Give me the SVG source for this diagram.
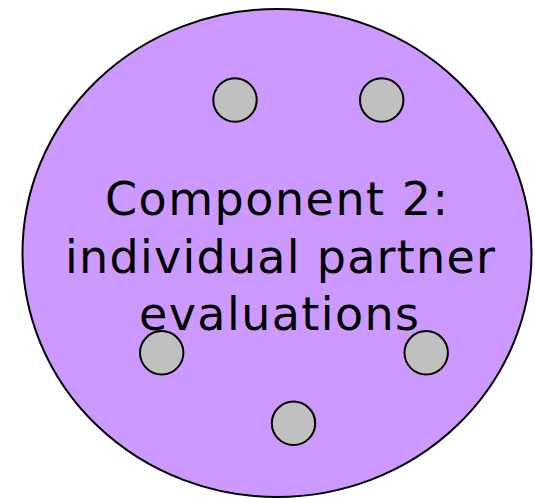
<svg xmlns="http://www.w3.org/2000/svg" width="535" height="498" viewBox="0 0 535 498">
<style>
.big{fill:#CC99FF;stroke:#000;stroke-width:2}
.dot{fill:#C0C0C0;stroke:#000;stroke-width:2}
.lbl{font-family:"DejaVu Sans",Verdana,sans-serif;font-size:46px;fill:#000;text-anchor:middle}
</style>
<rect width="535" height="498" fill="#fff"/>
<g id="component2">
<ellipse class="big" cx="277" cy="253" rx="254.5" ry="244"/>
<text class="lbl" x="276.5" y="215" textLength="343" lengthAdjust="spacing">Component 2:</text>
<text class="lbl" x="280" y="272.5" textLength="430" lengthAdjust="spacing">individual partner</text>
<text class="lbl" x="279" y="330" textLength="280" lengthAdjust="spacing">evaluations</text>
</g>
<g id="p1"><circle class="dot" cx="235" cy="100" r="21.7"/></g>
<g id="p2"><circle class="dot" cx="381.7" cy="100" r="21.7"/></g>
<g id="p3"><circle class="dot" cx="161.7" cy="352.8" r="21.7"/></g>
<g id="p4"><circle class="dot" cx="426.2" cy="352.8" r="21.7"/></g>
<g id="p5"><circle class="dot" cx="293.5" cy="423.3" r="21.7"/></g>
<g id="connectors"/>
</svg>
